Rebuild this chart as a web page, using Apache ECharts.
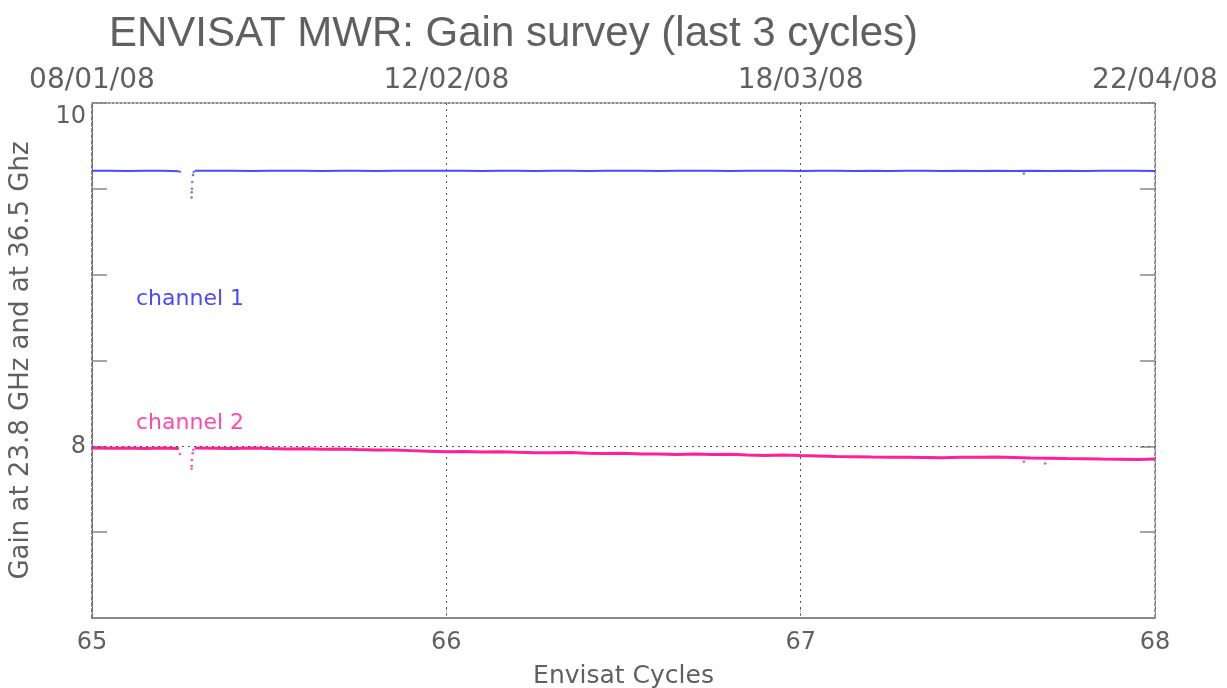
<!DOCTYPE html>
<html><head><meta charset="utf-8">
<script src="https://cdn.jsdelivr.net/npm/echarts@6/dist/echarts.min.js"></script>
<style>html,body{margin:0;padding:0;background:#fff}#c{width:1227px;height:688px}</style>
</head><body><div id="c"></div>
<script>
const titleText = 'ENVISAT MWR: Gain survey (last 3 cycles)';
const xName = 'Envisat Cycles';
const yName = 'Gain at 23.8 GHz and at 36.5 Ghz';
const cycleTicks = [65, 66, 67, 68];
const dateLabels = ['08/01/08', '12/02/08', '18/03/08', '22/04/08'];
const yLabelsShown = [10, 8];

// sample positions (Envisat cycle), null marks the data gap
const cycleX = [65.00,65.05,65.10,65.15,65.20,65.245,65.26,65.29,65.35,65.40,65.45,65.50,65.55,65.60,65.65,65.70,65.75,65.80,65.85,65.90,65.95,
  66.00,66.05,66.10,66.15,66.20,66.25,66.30,66.35,66.40,66.45,66.50,66.55,66.60,66.65,66.70,66.75,66.80,66.85,66.90,66.95,
  67.00,67.05,67.10,67.15,67.20,67.25,67.30,67.35,67.40,67.45,67.50,67.55,67.60,67.65,67.70,67.75,67.80,67.85,67.90,67.95,68.00];
const channel1 = [9.605,9.606,9.604,9.605,9.606,9.603,null,9.605,9.606,9.605,9.604,9.606,9.605,9.606,9.604,9.605,9.606,9.604,9.605,9.606,9.605,
  9.606,9.605,9.604,9.606,9.605,9.604,9.606,9.605,9.604,9.605,9.606,9.605,9.604,9.605,9.606,9.605,9.604,9.605,9.606,9.605,
  9.604,9.605,9.606,9.604,9.605,9.604,9.605,9.606,9.604,9.605,9.604,9.605,9.604,9.605,9.604,9.605,9.604,9.605,9.606,9.605,9.604];
const channel2 = [7.990,7.989,7.991,7.988,7.990,7.987,null,7.990,7.989,7.988,7.990,7.987,7.985,7.986,7.983,7.984,7.981,7.979,7.978,7.975,7.972,
  7.968,7.970,7.967,7.968,7.965,7.963,7.962,7.964,7.960,7.958,7.959,7.955,7.956,7.953,7.955,7.952,7.954,7.950,7.947,7.949,
  7.946,7.944,7.941,7.940,7.938,7.937,7.936,7.935,7.934,7.936,7.937,7.938,7.935,7.932,7.931,7.929,7.928,7.926,7.925,7.924,7.926];

// isolated samples around the calibration dip and outliers
const ch1DipX = [65.248, 65.281, 65.2815, 65.282, 65.283, 65.285, 65.287, 67.63];
const ch1DipY = [9.600, 9.450, 9.480, 9.500, 9.540, 9.580, 9.598, 9.590];
const ch2DipX = [65.248, 65.281, 65.2815, 65.282, 65.284, 65.286, 67.63, 67.69];
const ch2DipY = [7.955, 7.870, 7.885, 7.920, 7.960, 7.980, 7.910, 7.900];

const blue = '#4a4aff';
const pink = '#ff1f96';
const txt = '#606060';
const font = 'DejaVu Sans';
const tfont = 'Liberation Sans';

const pairs = (xs, ys) => xs.map((x, i) => [x, ys[i]]);

const chart = echarts.init(document.getElementById('c'), null, {renderer: 'canvas'});
chart.setOption({
  animation: false,
  backgroundColor: '#fff',
  title: {text: titleText, left: 104, top: 8,
    textStyle: {fontFamily: tfont, fontSize: 42, fontWeight: 'normal', color: txt}},
  grid: {left: 92, right: 72, top: 103, bottom: 70, containLabel: false, outerBoundsMode: 'none'},
  xAxis: [
    {type: 'value', min: 65, max: 68, interval: 1, position: 'bottom',
      name: xName, nameLocation: 'middle', nameGap: 46,
      nameTextStyle: {fontFamily: font, fontSize: 25, color: txt},
      axisLine: {onZero: false, lineStyle: {color: '#888', width: 2}},
      axisTick: {inside: true, length: 10, lineStyle: {color: '#888', type: 'dotted'}},
      axisLabel: {fontFamily: font, fontSize: 24, color: txt, margin: 13},
      splitLine: {show: true, lineStyle: {color: '#555', type: [2, 4], width: 1}}},
    {type: 'value', min: 65, max: 68, interval: 1, position: 'top',
      axisLine: {onZero: false, lineStyle: {color: '#666', type: [2, 2], width: 1.5}},
      axisTick: {show: false},
      axisLabel: {fontFamily: font, fontSize: 28, color: txt, margin: 8,
        formatter: v => { const i = cycleTicks.indexOf(Math.round(v)); return i >= 0 ? dateLabels[i] : ''; }},
      splitLine: {show: false}}
  ],
  yAxis: [
    {type: 'value', min: 7, max: 10, interval: 0.5, position: 'left',
      name: yName, nameLocation: 'middle', nameGap: 58, nameRotate: 90,
      nameTextStyle: {fontFamily: font, fontSize: 26, color: txt},
      axisLine: {onZero: false, lineStyle: {color: '#777', type: [3, 3], width: 2}},
      axisTick: {inside: true, length: 15, lineStyle: {color: '#888', width: 1.5}},
      axisLabel: {fontFamily: font, fontSize: 24, color: txt, margin: 6,
        formatter: v => yLabelsShown.includes(v) ? (v === 10 ? '{t|' + v + '}' : String(v)) : '',
        rich: {t: {fontFamily: font, fontSize: 24, color: txt, padding: [28, 0, 0, 0]}}},
      splitLine: {show: false}},
    {type: 'value', min: 7, max: 10, interval: 0.5, position: 'right',
      axisLine: {onZero: false, lineStyle: {color: '#777', type: [3, 3], width: 1.5}},
      axisTick: {inside: true, length: 15, lineStyle: {color: '#888', width: 1.5}},
      axisLabel: {show: false}, splitLine: {show: false}}
  ],
  series: [
    {type: 'line', name: 'channel 1', data: pairs(cycleX, channel1), showSymbol: false,
      lineStyle: {color: blue, width: 2}, connectNulls: false, z: 3},
    {type: 'line', name: 'channel 2', data: pairs(cycleX, channel2), showSymbol: false,
      lineStyle: {color: pink, width: 3}, connectNulls: false, z: 3,
      markLine: {silent: true, symbol: 'none', label: {show: false},
        lineStyle: {color: '#555', type: [2, 4], width: 1}, data: [{yAxis: 8}]}},
    {type: 'scatter', data: pairs(ch1DipX, ch1DipY), symbolSize: 2.5, itemStyle: {color: blue}, z: 4},
    {type: 'scatter', data: pairs(ch2DipX, ch2DipY), symbolSize: 2.5, itemStyle: {color: pink}, z: 4}
  ],
  graphic: [
    {type: 'text', left: 136, top: 288, style: {text: 'channel 1', fontFamily: font, fontSize: 22, fill: blue}},
    {type: 'text', left: 136, top: 412, style: {text: 'channel 2', fontFamily: font, fontSize: 22, fill: '#ff4aa8'}}
  ]
});
</script></body></html>
